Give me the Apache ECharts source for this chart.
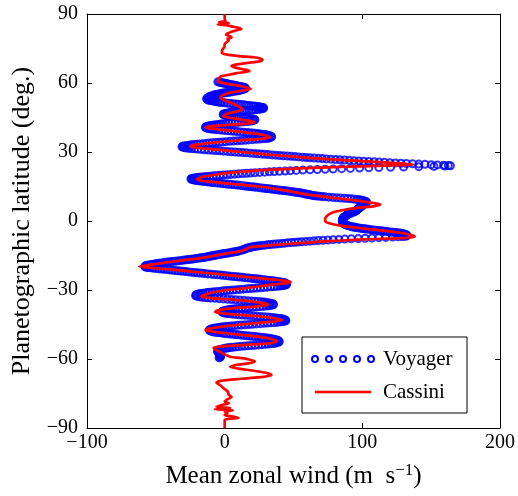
<!DOCTYPE html>
<html><head><meta charset="utf-8">
<script src="https://cdn.jsdelivr.net/npm/echarts@6/dist/echarts.min.js"></script>
<style>html,body{margin:0;padding:0;background:#fff}#c{width:518px;height:496px}</style>
</head><body><div id="c"></div>
<script>
// tick values
const windTicks = [-100, 0, 100, 200];
const latTicks = [-90, -60, -30, 0, 30, 60, 90];
const legendNames = ['Voyager', 'Cassini'];

// Cassini profile: [latitude (deg), wind (m/s)]
const cassini = [
  [90,0],[88,0],[87,0.5],[86.5,-4],[86,3],[85.5,-5],[85,2],[84.5,6],[84,10],[83.5,12],[83,9],[82.3,5],[81.5,2],[81,1],
  [80.3,4],[79.8,5],[79.2,2],[78.7,3],[78,2],[77,0],[76,0],[75,-1],[74,-2],[73,-2],[72.2,3],[71.6,12],[71.2,21],
  [70.6,26],[70,27.5],[69.4,25],[68.8,17],[68,8],[67.3,5],[66.7,8],[66,13],[65.3,18],[64.8,15],[64.2,8],[63.5,2],
  [62.8,-3],[62,-4],[61,-5],[60.5,-4],[59.5,3],[58.5,13],[57.5,19],[56.8,14],[55.8,4],[54.5,-2],[53.5,-3],[52.5,0],
  [51,6],[49.5,11],[48.6,13],[47.5,8],[46.5,1],[45.5,-1],[44.5,8],[43.5,18],[42.9,22],[42.2,14],[41.5,-4],[40.8,-14],
  [40.2,-10],[39.5,0],[38.5,15],[37.5,27],[36.6,33],[35.8,28],[35,10],[34,-10],[33.2,-21],[32.5,-25],[32,-22],[31,-5],
  [30,12],[29,30],[28,50],[27,72],[26,100],[25.2,125],[24.6,137],[24.2,120],[23.6,90],[23,60],[22,25],[21,5],[20,-8],
  [19,-17],[18.1,-20],[17.5,-17],[16.8,-5],[16,7],[15,25],[14,37],[13,47],[12,55],[11,66],[10,80],[9,95],[8,106],
  [7.2,113],[6.5,109],[5.8,98],[5,88],[4,80],[3,76],[2,74],[1,73],[0,73],[-1,76],[-2,84],[-3,97],[-4,112],[-5,126],
  [-6,135],[-6.7,138],[-7.3,132],[-8,100],[-9,70],[-10,45],[-11,25],[-11.5,18],[-12.5,15],[-13.5,8],[-14.5,-3],
  [-15.5,-11],[-16.5,-22],[-17.5,-36],[-18.5,-48],[-19.2,-56],[-19.8,-62],[-20.3,-55],[-21,-40],[-22,-24],[-23,-6],
  [-24,10],[-25,28],[-26,44],[-26.5,48],[-27,45],[-28,30],[-29,18],[-30,2],[-31,-8],[-32,-14],[-32.8,-17],[-33.5,-10],
  [-34.5,12],[-35.5,26],[-36.4,32],[-37.2,22],[-38,5],[-39,-6],[-39.7,-7],[-40.5,5],[-41.5,25],[-42.5,38],[-43.2,42],
  [-44,30],[-45,12],[-46,-3],[-47,-13],[-47.6,-14],[-48.5,-3],[-49.5,12],[-50.5,27],[-51.5,35],[-52.4,38],[-53.3,30],
  [-54.2,5],[-55,-8],[-55.8,-7],[-57,-3],[-58,0],[-59,4],[-60,16],[-61,22],[-61.8,18],[-62.6,8],[-63.4,4],[-64.2,10],
  [-65,20],[-66,30],[-67,34],[-67.8,28],[-68.6,12],[-69.5,-3],[-70.3,-6],[-71.5,-3],[-72.6,-1],[-74,2],[-75.5,3],
  [-76.5,5],[-77.5,2],[-78.5,0],[-79.2,3],[-80,-2],[-80.8,-6],[-81.3,4],[-81.8,-7],[-82.3,6],[-82.8,0],[-83.5,2],
  [-84.3,0],[-85,6],[-85.6,10],[-86,3],[-86.5,0],[-88,0],[-90,0]
];

// Voyager profile, quarter-degree readings: [latitude (deg), wind (m/s)]
const voyager = [
  [60.5,-5],[60.25,-3],[60,-1],[59.75,1],[59.5,3],[59.25,5],[59,7],[58.75,9],
  [58.5,11],[58.25,13],[58,14.5],[57.75,15],[57.5,14.5],[57.25,13],[57,12],[56.75,10],
  [56.5,8],[56.25,5.5],[56,3],[55.75,0.5],[55.5,-2],[55.25,-4],[55,-6],[54.75,-7.5],
  [54.5,-9],[54.25,-10],[54,-11],[53.75,-12],[53.5,-12.5],[53.25,-13],[53,-13],[52.75,-12.5],
  [52.5,-11],[52.25,-9],[52,-7],[51.75,-4.5],[51.5,-2],[51.25,2],[51,6],[50.75,10],
  [50.5,14],[50.25,17.5],[50,21],[49.75,24],[49.5,26.5],[49.25,28],[49,28],[48.75,26.5],
  [48.5,24],[48.25,20],[48,16],[47.75,12.5],[47.5,8.5],[47.25,5],[47,2.5],[46.75,0.5],
  [46.5,-1],[46.25,-1],[46,0.5],[45.75,2.5],[45.5,5],[45.25,8.5],[45,12],[44.75,15.5],
  [44.5,19],[44.25,21.5],[44,22],[43.75,21],[43.5,19],[43.25,16],[43,12],[42.75,7.5],
  [42.5,3],[42.25,-1],[42,-4.5],[41.75,-7.5],[41.5,-10],[41.25,-12],[41,-13.5],[40.75,-14],
  [40.5,-13.5],[40.25,-12],[40,-9.5],[39.75,-6],[39.5,-2],[39.25,2.5],[39,7],[38.75,11.5],
  [38.5,16],[38.25,20],[38,24],[37.75,27],[37.5,29.5],[37.25,31.5],[37,33],[36.75,34],
  [36.5,34],[36.25,33],[36,31],[35.75,27.5],[35.5,23],[35.25,17.5],[35,12],[34.75,6.5],
  [34.5,1],[34.25,-4],[34,-9],[33.75,-13.5],[33.5,-18],[33.25,-22],[33,-25.5],[32.75,-28.5],
  [32.5,-30.5],[32.25,-31],[32,-30],[31.75,-27.5],[31.5,-24],[31.25,-19.5],[31,-14.5],[30.75,-9],
  [30.5,-3.5],[30.25,2],[30,7.5],[29.75,13],[29.5,18.5],[29.25,24],[29,29],[28.75,34.5],
  [28.5,40],[28.25,45.5],[28,51],[27.75,56.5],[27.5,62],[27.25,68],[27,74],[26.75,80.5],
  [26.5,87],[26.25,94],[26,101],[25.75,108.5],[25.5,116],[25.25,124],[25,132],[24.75,141],
  [24.5,150],[24.25,159],[24,164],[23.75,152],[23.5,130],[23.25,112],[23,98],[22.75,85],
  [22.5,73],[22.25,62],[22,52],[21.75,44],[21.5,36],[21.25,29],[21,22],[20.75,16],
  [20.5,10],[20.25,4.5],[20,-1],[19.75,-6],[19.5,-11],[19.25,-15],[19,-19],[18.75,-22],
  [18.5,-24],[18.25,-24.5],[18,-23.5],[17.75,-21.5],[17.5,-19],[17.25,-16],[17,-12.5],[16.75,-9],
  [16.5,-5],[16.25,-1],[16,3],[15.75,7],[15.5,11],[15.25,14.5],[15,18],[14.75,21.5],
  [14.5,25],[14.25,28.5],[14,32],[13.75,35.5],[13.5,39],[13.25,42.5],[13,46],[12.75,49],
  [12.5,52],[12.25,54.5],[12,57],[11.75,59],[11.5,61],[11.25,63],[11,65.5],[10.75,69],
  [10.5,73],[10.25,78.5],[10,84],[9.75,89.5],[9.5,94],[9.25,97.5],[9,100],[8.75,101.5],
  [8.5,102.5],[8.25,103],[8,103],[7.75,102.5],[7.5,102],[7.25,101],[7,100.5],[6.75,100],
  [6.5,99.5],[6.25,99],[6,98.5],[5.75,98],[5.5,97.5],[5.25,97],[5,96.5],[4.75,96],
  [4.5,95.5],[4.25,95],[4,94],[3.75,93],[3.5,92],[3.25,91],[3,90],[2.75,89],
  [2.5,88.5],[2.25,88],[2,87.5],[1.75,87],[1.5,86.5],[1.25,86],[1,86],[0.75,85.5],
  [0.5,85.5],[0.25,85.5],[0,85.5],[-0.25,85.5],[-0.5,86],[-0.75,86],[-1,86.5],[-1.25,87],
  [-1.5,87.5],[-1.75,88.5],[-2,89.5],[-2.25,91],[-2.5,92.5],[-2.75,94.5],[-3,97],[-3.25,100],
  [-3.5,103],[-3.75,106.5],[-4,110],[-4.25,113.5],[-4.5,117],[-4.75,120.5],[-5,124],[-5.25,127],
  [-5.5,129.5],[-5.75,131],[-6,132],[-6.25,132.5],[-6.5,132],[-6.75,129],[-7,122],[-7.25,112],
  [-7.5,102],[-7.75,92],[-8,83],[-8.25,75],[-8.5,68],[-8.75,62],[-9,56],[-9.25,51],
  [-9.5,46],[-9.75,41.5],[-10,37],[-10.25,33],[-10.5,29],[-10.75,25.5],[-11,22.5],[-11.25,20],
  [-11.5,18],[-11.75,16.5],[-12,15.5],[-12.25,14.5],[-12.5,13.5],[-12.75,12],[-13,10.5],[-13.25,8.5],
  [-13.5,6.5],[-13.75,4],[-14,1.5],[-14.25,-1],[-14.5,-3.5],[-14.75,-6],[-15,-8],[-15.25,-10],
  [-15.5,-12],[-15.75,-14.5],[-16,-17],[-16.25,-20],[-16.5,-23],[-16.75,-26],[-17,-29.5],[-17.25,-33],
  [-17.5,-36.5],[-17.75,-40],[-18,-43],[-18.25,-46],[-18.5,-49],[-18.75,-51.5],[-19,-54],[-19.25,-56],
  [-19.5,-57.5],[-19.75,-58],[-20,-57.5],[-20.25,-55.5],[-20.5,-52],[-20.75,-48],[-21,-44],[-21.25,-40],
  [-21.5,-36],[-21.75,-32],[-22,-28],[-22.25,-24],[-22.5,-20],[-22.75,-16],[-23,-12],[-23.25,-7.5],
  [-23.5,-3],[-23.75,1],[-24,5],[-24.25,9],[-24.5,13],[-24.75,17],[-25,21],[-25.25,24.5],
  [-25.5,28],[-25.75,31.5],[-26,35],[-26.25,38],[-26.5,40.5],[-26.75,42.5],[-27,44],[-27.25,45],
  [-27.5,45],[-27.75,44.5],[-28,43],[-28.25,40],[-28.5,36],[-28.75,31],[-29,26],[-29.25,21],
  [-29.5,16],[-29.75,11],[-30,6],[-30.25,1.5],[-30.5,-3],[-30.75,-7],[-31,-11],[-31.25,-14],
  [-31.5,-17],[-31.75,-19],[-32,-20.5],[-32.25,-21],[-32.5,-21],[-32.75,-20],[-33,-18],[-33.25,-14.5],
  [-33.5,-10],[-33.75,-4],[-34,2],[-34.25,8],[-34.5,14],[-34.75,19.5],[-35,24],[-35.25,28],
  [-35.5,31],[-35.75,33.5],[-36,35],[-36.25,35.5],[-36.5,35],[-36.75,33],[-37,30],[-37.25,25.5],
  [-37.5,20.5],[-37.75,15],[-38,10],[-38.25,6],[-38.5,3],[-38.75,1],[-39,-0.5],[-39.25,-1.5],
  [-39.5,-2],[-39.75,-1.5],[-40,0],[-40.25,2.5],[-40.5,6],[-40.75,10.5],[-41,15.5],[-41.25,21],
  [-41.5,26],[-41.75,31],[-42,35],[-42.25,38.5],[-42.5,41],[-42.75,43],[-43,44],[-43.25,44.5],
  [-43.5,44],[-43.75,41.5],[-44,38],[-44.25,33.5],[-44.5,28.5],[-44.75,23],[-45,17.5],[-45.25,12],
  [-45.5,7],[-45.75,3],[-46,-1],[-46.25,-4],[-46.5,-6.5],[-46.75,-8.5],[-47,-10],[-47.25,-11],
  [-47.5,-11],[-47.75,-10.5],[-48,-9.5],[-48.25,-7.5],[-48.5,-5],[-48.75,-1.5],[-49,2],[-49.25,6],
  [-49.5,10],[-49.75,14],[-50,18],[-50.25,22],[-50.5,26],[-50.75,29],[-51,32],[-51.25,34.5],
  [-51.5,36.5],[-51.75,38],[-52,39],[-52.25,39.5],[-52.5,39.5],[-52.75,39],[-53,37.5],[-53.25,35],
  [-53.5,31.5],[-53.75,27],[-54,22],[-54.25,17],[-54.5,12],[-54.75,8],[-55,4],[-55.25,1.5],
  [-55.5,-1],[-55.75,-2.5],[-56,-4],[-56.25,-4.5],[-56.5,-5],[-56.75,-5],[-57,-5],[-57.25,-4.5],
  [-57.5,-4],[-57.75,-3.5],[-58,-3],[-58.25,-3],[-58.5,-3],[-58.75,-3],[-59,-3],[-59.25,-3.5],
  [-59.5,-4]
];

// Voyager profile, extra eighth-degree readings on the steep parts: [latitude (deg), wind (m/s)]
const voyagerFine = [
  [60.375,-4],[60.125,-2],[59.875,0],[59.625,2],[59.375,4],[59.125,6],[58.875,8],[58.625,10],
  [58.375,12],[58.125,13.8],[57.875,14.9],[57.625,14.9],[57.375,13.8],[57.125,12.5],[56.875,11],[56.625,9],
  [56.375,6.8],[56.125,4.2],[55.875,1.8],[55.625,-0.8],[55.375,-3],[55.125,-5],[54.875,-6.8],[54.625,-8.3],
  [54.375,-9.5],[54.125,-10.5],[52.625,-11.8],[52.375,-10],[52.125,-8],[51.875,-5.8],[51.625,-3.2],[51.375,0],
  [51.125,4],[50.875,8],[50.625,12],[50.375,15.8],[50.125,19.3],[49.875,22.5],[49.625,25.3],[49.375,27.4],
  [49.125,28.3],[48.875,27.4],[48.625,25.3],[48.375,22],[48.125,18],[47.875,14.2],[47.625,10.5],[47.375,6.7],
  [47.125,3.7],[46.875,1.4],[45.875,1.4],[45.625,3.7],[45.375,6.7],[45.125,10.2],[44.875,13.8],[44.625,17.3],
  [44.375,20.4],[43.625,20.1],[43.375,17.6],[43.125,14],[42.875,9.8],[42.625,5.2],[42.375,1],[42.125,-2.8],
  [41.875,-6],[41.625,-8.8],[41.375,-11],[41.125,-12.8],[40.375,-12.8],[40.125,-10.8],[39.875,-7.8],[39.625,-4],
  [39.375,0.2],[39.125,4.8],[38.875,9.2],[38.625,13.8],[38.375,18],[38.125,22],[37.875,25.6],[37.625,28.3],
  [37.375,30.6],[37.125,32.3],[36.125,32.1],[35.875,29.4],[35.625,25.4],[35.375,20.3],[35.125,14.8],[34.875,9.2],
  [34.625,3.8],[34.375,-1.5],[34.125,-6.5],[33.875,-11.3],[33.625,-15.8],[33.375,-20],[33.125,-23.8],[32.875,-27.1],
  [32.625,-29.6],[31.875,-28.9],[31.625,-25.8],[31.375,-21.8],[31.125,-17],[30.875,-11.8],[30.625,-6.3],[30.375,-0.8],
  [30.125,4.7],[29.875,10.2],[29.625,15.7],[29.375,21.2],[29.125,26.5],[28.875,31.7],[28.625,37.2],[28.375,42.7],
  [28.125,48.2],[27.875,53.7],[27.625,59.2],[27.375,65],[27.125,71],[26.875,77.2],[26.625,83.7],[26.375,90.5],
  [26.125,97.5],[25.875,104.7],[25.625,112.2],[25.375,120],[25.125,128],[24.875,136.5],[24.625,145.5],[24.375,154.5],
  [24.125,162.5],[23.875,160],[23.625,141],[23.375,120.5],[23.125,104.7],[22.875,91.3],[22.625,78.8],[22.375,67.3],
  [22.125,56.8],[21.875,47.8],[21.625,39.8],[21.375,32.4],[21.125,25.4],[20.875,18.9],[20.625,13],[20.375,7.2],
  [20.125,1.7],[19.875,-3.5],[19.625,-8.5],[19.375,-13.1],[19.125,-17.1],[18.875,-20.6],[18.625,-23.1],[17.875,-22.6],
  [17.625,-20.3],[17.375,-17.5],[17.125,-14.3],[16.875,-10.8],[16.625,-7],[16.375,-3],[16.125,1],[15.875,5],
  [15.625,9],[15.375,12.8],[15.125,16.2],[14.875,19.8],[14.625,23.2],[14.375,26.8],[14.125,30.2],[13.875,33.8],
  [13.625,37.2],[13.375,40.8],[13.125,44.2],[12.875,47.5],[12.625,50.5],[12.375,53.2],[12.125,55.8],[11.875,58],
  [11.625,60],[11.375,62],[11.125,64.2],[10.875,67.1],[10.625,70.9],[10.375,75.6],[10.125,81.3],[9.875,86.9],
  [9.625,91.9],[9.375,95.9],[9.125,98.9],
  [-2.625,93.4],[-2.875,95.7],[-3.125,98.5],[-3.375,101.5],[-3.625,104.7],[-3.875,108.2],[-4.125,111.7],[-4.375,115.2],
  [-4.625,118.7],[-4.875,122.3],[-5.125,125.6],[-5.375,128.3],[-5.625,130.3],[-6.625,130.8],[-6.875,126],[-7.125,117],
  [-7.375,107],[-7.625,97],[-7.875,87.3],[-8.125,78.9],[-8.375,71.4],[-8.625,64.9],[-8.875,59],[-9.125,53.4],
  [-9.375,48.5],[-9.625,43.7],[-9.875,39.2],[-10.125,35],[-10.375,31],[-10.625,27.2],[-10.875,24],[-11.125,21.2],
  [-11.375,19],[-13.125,9.5],[-13.375,7.5],[-13.625,5.3],[-13.875,2.8],[-14.125,0.2],[-14.375,-2.2],[-14.625,-4.8],
  [-14.875,-7],[-15.125,-9],[-15.375,-11],[-15.625,-13.2],[-15.875,-15.7],[-16.125,-18.5],[-16.375,-21.5],[-16.625,-24.5],
  [-16.875,-27.7],[-17.125,-31.2],[-17.375,-34.7],[-17.625,-38.2],[-17.875,-41.5],[-18.125,-44.5],[-18.375,-47.5],[-18.625,-50.3],
  [-18.875,-52.8],[-19.125,-55],[-19.375,-56.8],[-20.125,-56.6],[-20.375,-53.8],[-20.625,-50],[-20.875,-46],[-21.125,-42],
  [-21.375,-38],[-21.625,-34],[-21.875,-30],[-22.125,-26],[-22.375,-22],[-22.625,-18],[-22.875,-14],[-23.125,-9.7],
  [-23.375,-5.2],[-23.625,-1],[-23.875,3],[-24.125,7],[-24.375,11],[-24.625,15],[-24.875,19],[-25.125,22.8],
  [-25.375,26.2],[-25.625,29.8],[-25.875,33.2],[-26.125,36.5],[-26.375,39.3],[-26.625,41.6],[-26.875,43.3],[-27.875,43.9],
  [-28.125,41.7],[-28.375,38.1],[-28.625,33.6],[-28.875,28.5],[-29.125,23.5],[-29.375,18.5],[-29.625,13.5],[-29.875,8.5],
  [-30.125,3.7],[-30.375,-0.8],[-30.625,-5],[-30.875,-9],[-31.125,-12.6],[-31.375,-15.6],[-31.625,-18.1],[-33.125,-16.4],
  [-33.375,-12.4],[-33.625,-7.1],[-33.875,-1],[-34.125,5],[-34.375,11],[-34.625,16.8],[-34.875,21.9],[-35.125,26.1],
  [-35.375,29.6],[-35.625,32.4],[-36.875,31.7],[-37.125,27.9],[-37.375,23],[-37.625,17.8],[-37.875,12.4],[-38.125,7.9],
  [-38.375,4.4],[-40.125,1.1],[-40.375,4.1],[-40.625,8.1],[-40.875,12.9],[-41.125,18.2],[-41.375,23.5],[-41.625,28.6],
  [-41.875,33.1],[-42.125,36.9],[-42.375,39.9],[-42.625,42.1],[-43.625,43],[-43.875,39.9],[-44.125,35.9],[-44.375,31.1],
  [-44.625,25.8],[-44.875,20.2],[-45.125,14.7],[-45.375,9.4],[-45.625,4.9],[-45.875,1],[-46.125,-2.6],[-46.375,-5.3],
  [-46.625,-7.6],[-48.125,-8.6],[-48.375,-6.3],[-48.625,-3.3],[-48.875,0.2],[-49.125,4],[-49.375,8],[-49.625,12],
  [-49.875,16],[-50.125,20],[-50.375,24],[-50.625,27.6],[-50.875,30.6],[-51.125,33.3],[-51.375,35.6],[-53.125,36.4],
  [-53.375,33.4],[-53.625,29.4],[-53.875,24.6],[-54.125,19.5],[-54.375,14.4],[-54.625,9.9],[-54.875,5.9],[-55.125,2.7],
  [-55.375,0.2]
];

const SERIF = '"Liberation Serif", "DejaVu Serif", serif';
const fmt = v => String(v).replace('-', '\u2212');
const chart = echarts.init(document.getElementById('c'), null, {renderer: 'canvas'});

const baseX = {
  type: 'value', min: windTicks[0], max: windTicks[windTicks.length - 1], interval: 100,
  axisLine: {show: true, onZero: false, lineStyle: {color: '#000', width: 1}},
  axisTick: {show: true, inside: true, length: 5, lineStyle: {color: '#000'}},
  splitLine: {show: false}
};
const baseY = {
  type: 'value', min: latTicks[0], max: latTicks[latTicks.length - 1], interval: 30,
  axisLine: {show: true, onZero: false, lineStyle: {color: '#000', width: 1}},
  axisTick: {show: true, inside: true, length: 5, lineStyle: {color: '#000'}},
  splitLine: {show: false}
};

const legendX = 315, legendStep = 14;
const legendGraphics = [
  {type: 'rect', shape: {x: 302, y: 337, width: 165, height: 76}, style: {fill: '#fff', stroke: '#000', lineWidth: 1}}
];
for (let i = 0; i < 5; i++) {
  legendGraphics.push({type: 'circle', shape: {cx: legendX + i * legendStep, cy: 359, r: 3}, style: {fill: 'none', stroke: '#0000ff', lineWidth: 2}});
}
legendGraphics.push(
  {type: 'text', x: 383, y: 359, style: {text: legendNames[0], font: '21px ' + SERIF, fill: '#000', verticalAlign: 'middle'}},
  {type: 'line', shape: {x1: 315, y1: 392, x2: 371, y2: 392}, style: {stroke: '#ff0000', lineWidth: 2.5}},
  {type: 'text', x: 383, y: 392, style: {text: legendNames[1], font: '21px ' + SERIF, fill: '#000', verticalAlign: 'middle'}}
);

chart.setOption({
  animation: false,
  backgroundColor: '#fff',
  grid: {left: 87, right: 17, top: 14, bottom: 68, containLabel: false},
  xAxis: [
    Object.assign({}, baseX, {
      position: 'bottom',
      axisLabel: {show: true, color: '#000', fontSize: 20, fontFamily: SERIF, margin: 5, formatter: fmt},
      name: 'Mean zonal wind (m  s{sup|\u22121})', nameLocation: 'middle', nameGap: 34,
      nameTextStyle: {color: '#000', fontSize: 25, fontFamily: SERIF,
        rich: {sup: {fontSize: 17, fontFamily: SERIF, color: '#000', padding: [0, 0, 12, 0]}}}
    }),
    Object.assign({}, baseX, {position: 'top', axisLabel: {show: false}})
  ],
  yAxis: [
    Object.assign({}, baseY, {
      position: 'left',
      axisLabel: {show: true, color: '#000', fontSize: 20, fontFamily: SERIF, margin: 9, formatter: fmt},
      name: 'Planetographic latitude (deg.)', nameLocation: 'middle', nameGap: 52, nameRotate: 90,
      nameTextStyle: {color: '#000', fontSize: 26, fontFamily: SERIF}
    }),
    Object.assign({}, baseY, {position: 'right', axisLabel: {show: false}})
  ],
  series: [
    {
      name: legendNames[0], type: 'scatter', xAxisIndex: 0, yAxisIndex: 0,
      data: voyager.concat(voyagerFine).map(p => [p[1], p[0]]),
      symbol: 'circle', symbolSize: 7,
      itemStyle: {color: 'rgba(0,0,0,0)', borderColor: '#0000ff', borderWidth: 2},
      emphasis: {disabled: true}, z: 2
    },
    {
      name: legendNames[1], type: 'line', xAxisIndex: 0, yAxisIndex: 0,
      data: cassini.map(p => [p[1], p[0]]),
      showSymbol: false, smooth: 0.25,
      lineStyle: {color: '#ff0000', width: 2.7},
      emphasis: {disabled: true}, z: 3
    }
  ],
  graphic: {elements: legendGraphics.map(g => Object.assign({z: 100}, g))}
});
</script>
</body></html>
